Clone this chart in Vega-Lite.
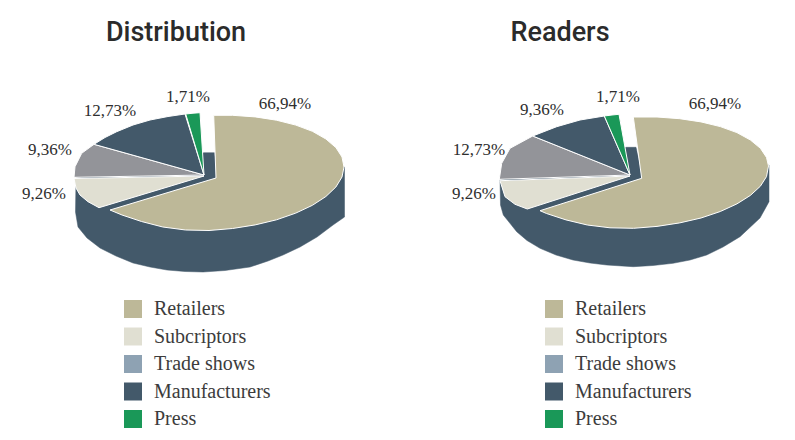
{"$schema":"https://vega.github.io/schema/vega-lite/v6.json","padding":0,"spacing":0,"background":"white","config":{"view":{"stroke":null},"concat":{"spacing":0}},
"datasets":{
"leftShapes":[
{"p":"body","i":0,"x":76,"y":178},{"p":"body","i":1,"x":75.5,"y":212},{"p":"body","i":2,"x":78,"y":227},{"p":"body","i":3,"x":87,"y":238},{"p":"body","i":4,"x":100,"y":248},{"p":"body","i":5,"x":116,"y":256},{"p":"body","i":6,"x":133,"y":263},{"p":"body","i":7,"x":150,"y":267},{"p":"body","i":8,"x":167,"y":270},{"p":"body","i":9,"x":185,"y":271.5},{"p":"body","i":10,"x":203,"y":272},{"p":"body","i":11,"x":225,"y":270.5},{"p":"body","i":12,"x":250,"y":267},{"p":"body","i":13,"x":268,"y":261},{"p":"body","i":14,"x":283,"y":255},{"p":"body","i":15,"x":300,"y":247},{"p":"body","i":16,"x":317,"y":237},{"p":"body","i":17,"x":333,"y":225},{"p":"body","i":18,"x":344.5,"y":217},{"p":"body","i":19,"x":344.5,"y":167},{"p":"body","i":20,"x":216,"y":165},{"p":"body","i":21,"x":214.5,"y":152.7},{"p":"body","i":22,"x":204,"y":152.7},{"p":"body","i":23,"x":120,"y":170},
{"p":"Retailers","i":0,"x":216,"y":178},{"p":"Retailers","i":1,"x":213.7,"y":115.3},{"p":"Retailers","i":2,"x":232.5,"y":115.3},{"p":"Retailers","i":3,"x":255.2,"y":116.9},{"p":"Retailers","i":4,"x":276.5,"y":120.2},{"p":"Retailers","i":5,"x":295.8,"y":125.1},{"p":"Retailers","i":6,"x":312.4,"y":131.3},{"p":"Retailers","i":7,"x":325.9,"y":139},{"p":"Retailers","i":8,"x":335.9,"y":147.6},{"p":"Retailers","i":9,"x":342,"y":157},{"p":"Retailers","i":10,"x":344,"y":167},{"p":"Retailers","i":11,"x":342,"y":177},{"p":"Retailers","i":12,"x":335.9,"y":187},{"p":"Retailers","i":13,"x":325.9,"y":196.5},{"p":"Retailers","i":14,"x":312.4,"y":205.3},{"p":"Retailers","i":15,"x":295.8,"y":213.1},{"p":"Retailers","i":16,"x":276.5,"y":219.8},{"p":"Retailers","i":17,"x":255.2,"y":224.9},{"p":"Retailers","i":18,"x":232.5,"y":228.5},{"p":"Retailers","i":19,"x":209,"y":230.5},{"p":"Retailers","i":20,"x":185.6,"y":230},{"p":"Retailers","i":21,"x":162.8,"y":227},{"p":"Retailers","i":22,"x":141.5,"y":221.5},{"p":"Retailers","i":23,"x":122,"y":215},{"p":"Retailers","i":24,"x":110,"y":210},
{"p":"Subcriptors","i":0,"x":204,"y":176},{"p":"Subcriptors","i":1,"x":74,"y":178.5},{"p":"Subcriptors","i":2,"x":76,"y":188},{"p":"Subcriptors","i":3,"x":80,"y":195},{"p":"Subcriptors","i":4,"x":88,"y":201.7},{"p":"Subcriptors","i":5,"x":99,"y":207.7},
{"p":"Trade shows","i":0,"x":204,"y":175},{"p":"Trade shows","i":1,"x":94,"y":144.3},{"p":"Trade shows","i":2,"x":81.7,"y":153.3},{"p":"Trade shows","i":3,"x":75,"y":166.7},{"p":"Trade shows","i":4,"x":74,"y":177.3},
{"p":"Manufacturers","i":0,"x":204,"y":175},{"p":"Manufacturers","i":1,"x":94,"y":144.3},{"p":"Manufacturers","i":2,"x":105,"y":137.5},{"p":"Manufacturers","i":3,"x":116.7,"y":131.7},{"p":"Manufacturers","i":4,"x":133,"y":125},{"p":"Manufacturers","i":5,"x":150,"y":120},{"p":"Manufacturers","i":6,"x":168,"y":116.5},{"p":"Manufacturers","i":7,"x":185,"y":114},
{"p":"Press","i":0,"x":204,"y":175},{"p":"Press","i":1,"x":185.7,"y":114},{"p":"Press","i":2,"x":193,"y":113.2},{"p":"Press","i":3,"x":200,"y":112.7}],
"rightShapes":[
{"p":"body","i":0,"x":500,"y":180},{"p":"body","i":1,"x":500.5,"y":205},{"p":"body","i":2,"x":503.3,"y":215},{"p":"body","i":3,"x":516.7,"y":231.7},{"p":"body","i":4,"x":527,"y":240.5},{"p":"body","i":5,"x":540,"y":248.3},{"p":"body","i":6,"x":556,"y":255},{"p":"body","i":7,"x":573,"y":260},{"p":"body","i":8,"x":590,"y":263},{"p":"body","i":9,"x":606.7,"y":265},{"p":"body","i":10,"x":633.3,"y":266.7},{"p":"body","i":11,"x":653,"y":265.5},{"p":"body","i":12,"x":673,"y":263.3},{"p":"body","i":13,"x":690,"y":260},{"p":"body","i":14,"x":706.7,"y":255},{"p":"body","i":15,"x":723,"y":247},{"p":"body","i":16,"x":740,"y":236.7},{"p":"body","i":17,"x":760,"y":218},{"p":"body","i":18,"x":769,"y":201.7},{"p":"body","i":19,"x":769,"y":165},{"p":"body","i":20,"x":640,"y":165},{"p":"body","i":21,"x":636,"y":147.3},{"p":"body","i":22,"x":626,"y":147.3},{"p":"body","i":23,"x":545,"y":170},
{"p":"Retailers","i":0,"x":641.7,"y":178.3},{"p":"Retailers","i":1,"x":633.3,"y":117},{"p":"Retailers","i":2,"x":657,"y":117},{"p":"Retailers","i":3,"x":679.7,"y":118.7},{"p":"Retailers","i":4,"x":701,"y":121.9},{"p":"Retailers","i":5,"x":720.3,"y":126.6},{"p":"Retailers","i":6,"x":736.9,"y":132.6},{"p":"Retailers","i":7,"x":750.4,"y":140},{"p":"Retailers","i":8,"x":760.4,"y":148.3},{"p":"Retailers","i":9,"x":766.5,"y":157.4},{"p":"Retailers","i":10,"x":768.5,"y":166},{"p":"Retailers","i":11,"x":766.5,"y":176.6},{"p":"Retailers","i":12,"x":760.4,"y":186.2},{"p":"Retailers","i":13,"x":750.4,"y":195.4},{"p":"Retailers","i":14,"x":736.9,"y":203.9},{"p":"Retailers","i":15,"x":720.3,"y":211.5},{"p":"Retailers","i":16,"x":701,"y":218},{"p":"Retailers","i":17,"x":679.7,"y":222.9},{"p":"Retailers","i":18,"x":657,"y":226.4},{"p":"Retailers","i":19,"x":633.5,"y":228.3},{"p":"Retailers","i":20,"x":610,"y":227.8},{"p":"Retailers","i":21,"x":587.3,"y":225},{"p":"Retailers","i":22,"x":566,"y":219.9},{"p":"Retailers","i":23,"x":546.5,"y":213.5},{"p":"Retailers","i":24,"x":540,"y":210.7},
{"p":"Subcriptors","i":0,"x":630,"y":176},{"p":"Subcriptors","i":1,"x":500,"y":180.7},{"p":"Subcriptors","i":2,"x":505,"y":196.7},{"p":"Subcriptors","i":3,"x":515,"y":204.3},{"p":"Subcriptors","i":4,"x":527.3,"y":209},
{"p":"Trade shows","i":0,"x":630,"y":175},{"p":"Trade shows","i":1,"x":532.7,"y":136},{"p":"Trade shows","i":2,"x":510,"y":148.3},{"p":"Trade shows","i":3,"x":501.7,"y":163.3},{"p":"Trade shows","i":4,"x":499.3,"y":179.3},
{"p":"Manufacturers","i":0,"x":630,"y":175},{"p":"Manufacturers","i":1,"x":532.7,"y":136},{"p":"Manufacturers","i":2,"x":556.7,"y":126.7},{"p":"Manufacturers","i":3,"x":580,"y":120},{"p":"Manufacturers","i":4,"x":604.3,"y":116},
{"p":"Press","i":0,"x":630,"y":175},{"p":"Press","i":1,"x":604.3,"y":116},{"p":"Press","i":2,"x":612,"y":115},{"p":"Press","i":3,"x":619,"y":114.3}],
"leftLabels":[{"category":"Retailers","label":"66,94%","x":285,"y":104},{"category":"Press","label":"1,71%","x":188,"y":97},{"category":"Manufacturers","label":"12,73%","x":110,"y":111},{"category":"Trade shows","label":"9,36%","x":50,"y":150},{"category":"Subcriptors","label":"9,26%","x":44,"y":194}],
"rightLabels":[{"category":"Retailers","label":"66,94%","x":715,"y":104},{"category":"Press","label":"1,71%","x":618,"y":97},{"category":"Manufacturers","label":"9,36%","x":542,"y":110},{"category":"Trade shows","label":"12,73%","x":479,"y":150},{"category":"Subcriptors","label":"9,26%","x":474,"y":194}]
},
"hconcat":[
{"width":420,"height":440,"layer":[
{"data":{"name":"leftShapes"},"transform":[{"filter":"datum.p==='body'"}],"mark":{"type":"line","interpolate":"linear-closed","fill":"#43596a","stroke":"#43596a","strokeWidth":0.5},"encoding":{"x":{"field":"x","type":"quantitative","scale":{"domain":[0,420]},"axis":null},"y":{"field":"y","type":"quantitative","scale":{"domain":[440,0]},"axis":null},"order":{"field":"i"}}},
{"data":{"name":"leftShapes"},"transform":[{"filter":"datum.p==='Trade shows'"}],"mark":{"type":"line","interpolate":"linear-closed","fill":"#939499","stroke":"#ffffff","strokeWidth":1},"encoding":{"x":{"field":"x","type":"quantitative","scale":{"domain":[0,420]},"axis":null},"y":{"field":"y","type":"quantitative","scale":{"domain":[440,0]},"axis":null},"order":{"field":"i"}}},
{"data":{"name":"leftShapes"},"transform":[{"filter":"datum.p!=='body'&&datum.p!=='Trade shows'"}],"mark":{"type":"line","interpolate":"linear-closed","stroke":"#ffffff","strokeWidth":1},"encoding":{"x":{"field":"x","type":"quantitative","scale":{"domain":[0,420]},"axis":null},"y":{"field":"y","type":"quantitative","scale":{"domain":[440,0]},"axis":null},"order":{"field":"i"},"fill":{"field":"p","type":"nominal","sort":null,"scale":{"domain":["Retailers","Subcriptors","Trade shows","Manufacturers","Press"],"range":["#bdb898","#e0dfd2","#8ea2b3","#43596a","#1a9858"]},"legend":{"title":null,"orient":"none","legendX":123,"legendY":299,"symbolType":"square","symbolSize":324,"symbolStrokeWidth":0,"symbolOpacity":1,"symbolFillColor":null,"labelFont":"Liberation Sans Narrow","labelFontSize":20,"labelColor":"#3c3c3c","labelOffset":11,"rowPadding":7.5,"values":["Retailers","Subcriptors","Trade shows","Manufacturers","Press"]}}}},
{"data":{"name":"leftLabels"},"mark":{"type":"text","font":"Liberation Sans Narrow","fontSize":17,"color":"#2e2e2e","align":"center","baseline":"middle"},"encoding":{"x":{"field":"x","type":"quantitative","scale":{"domain":[0,420]},"axis":null},"y":{"field":"y","type":"quantitative","scale":{"domain":[440,0]},"axis":null},"text":{"field":"label"}}},
{"data":{"values":[{"t":"Distribution","x":176,"y":33}]},"mark":{"type":"text","font":"Roboto","fontWeight":500,"fontSize":27,"color":"#2b2b2b","align":"center","baseline":"middle"},"encoding":{"x":{"field":"x","type":"quantitative","scale":{"domain":[0,420]},"axis":null},"y":{"field":"y","type":"quantitative","scale":{"domain":[440,0]},"axis":null},"text":{"field":"t"}}}
]},
{"width":375,"height":440,"layer":[
{"data":{"name":"rightShapes"},"transform":[{"filter":"datum.p==='body'"}],"mark":{"type":"line","interpolate":"linear-closed","fill":"#43596a","stroke":"#43596a","strokeWidth":0.5},"encoding":{"x":{"field":"x","type":"quantitative","scale":{"domain":[420,795]},"axis":null},"y":{"field":"y","type":"quantitative","scale":{"domain":[440,0]},"axis":null},"order":{"field":"i"}}},
{"data":{"name":"rightShapes"},"transform":[{"filter":"datum.p==='Trade shows'"}],"mark":{"type":"line","interpolate":"linear-closed","fill":"#939499","stroke":"#ffffff","strokeWidth":1},"encoding":{"x":{"field":"x","type":"quantitative","scale":{"domain":[420,795]},"axis":null},"y":{"field":"y","type":"quantitative","scale":{"domain":[440,0]},"axis":null},"order":{"field":"i"}}},
{"data":{"name":"rightShapes"},"transform":[{"filter":"datum.p!=='body'&&datum.p!=='Trade shows'"}],"mark":{"type":"line","interpolate":"linear-closed","stroke":"#ffffff","strokeWidth":1},"encoding":{"x":{"field":"x","type":"quantitative","scale":{"domain":[420,795]},"axis":null},"y":{"field":"y","type":"quantitative","scale":{"domain":[440,0]},"axis":null},"order":{"field":"i"},"fill":{"field":"p","type":"nominal","sort":null,"scale":{"domain":["Retailers","Subcriptors","Trade shows","Manufacturers","Press"],"range":["#bdb898","#e0dfd2","#8ea2b3","#43596a","#1a9858"]},"legend":{"title":null,"orient":"none","legendX":124,"legendY":299,"symbolType":"square","symbolSize":324,"symbolStrokeWidth":0,"symbolOpacity":1,"symbolFillColor":null,"labelFont":"Liberation Sans Narrow","labelFontSize":20,"labelColor":"#3c3c3c","labelOffset":11,"rowPadding":7.5,"values":["Retailers","Subcriptors","Trade shows","Manufacturers","Press"]}}}},
{"data":{"name":"rightLabels"},"mark":{"type":"text","font":"Liberation Sans Narrow","fontSize":17,"color":"#2e2e2e","align":"center","baseline":"middle"},"encoding":{"x":{"field":"x","type":"quantitative","scale":{"domain":[420,795]},"axis":null},"y":{"field":"y","type":"quantitative","scale":{"domain":[440,0]},"axis":null},"text":{"field":"label"}}},
{"data":{"values":[{"t":"Readers","x":560,"y":33}]},"mark":{"type":"text","font":"Roboto","fontWeight":500,"fontSize":27,"color":"#2b2b2b","align":"center","baseline":"middle"},"encoding":{"x":{"field":"x","type":"quantitative","scale":{"domain":[420,795]},"axis":null},"y":{"field":"y","type":"quantitative","scale":{"domain":[440,0]},"axis":null},"text":{"field":"t"}}}
]}
],"resolve":{"scale":{"x":"independent","y":"independent","fill":"independent"},"legend":{"fill":"independent"}}}
